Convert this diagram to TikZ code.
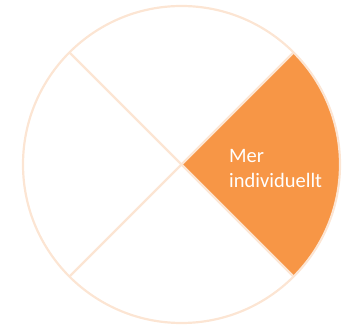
\documentclass[tikz,border=0pt]{standalone}
\usepackage{fontspec}
\setmainfont{Carlito}
\usetikzlibrary{calc}
\definecolor{peach}{HTML}{FCE5D3}
\definecolor{accent}{HTML}{F79646}
\tikzset{
  divider/.style={draw=peach, line width=2.2pt},
  sector/.style={fill=accent},
  label/.style={text=white, font=\fontsize{20.5}{25.5}\selectfont, align=left, inner sep=0pt}
}
\begin{document}
\begin{tikzpicture}[x=1pt,y=1pt]
\useasboundingbox (0,0) rectangle (347,328);
\coordinate (c) at (181.5,163.5);
\fill[sector] (c) -- ++(-45:158) arc[start angle=-45, end angle=45, radius=158] -- cycle;
\draw[divider] (c) circle[radius=158.5];
\coordinate (ne) at ($(c)+(45:158.5)$);
\coordinate (sw) at ($(c)+(225:158.5)$);
\coordinate (nw) at ($(c)+(135:158.5)$);
\coordinate (se) at ($(c)+(-45:158.5)$);
\draw[divider] (ne) -- (sw);
\draw[divider] (nw) -- (se);
\node[label, anchor=north west] (t) at (229,179) {Mer\\individuellt};
\end{tikzpicture}
\end{document}
